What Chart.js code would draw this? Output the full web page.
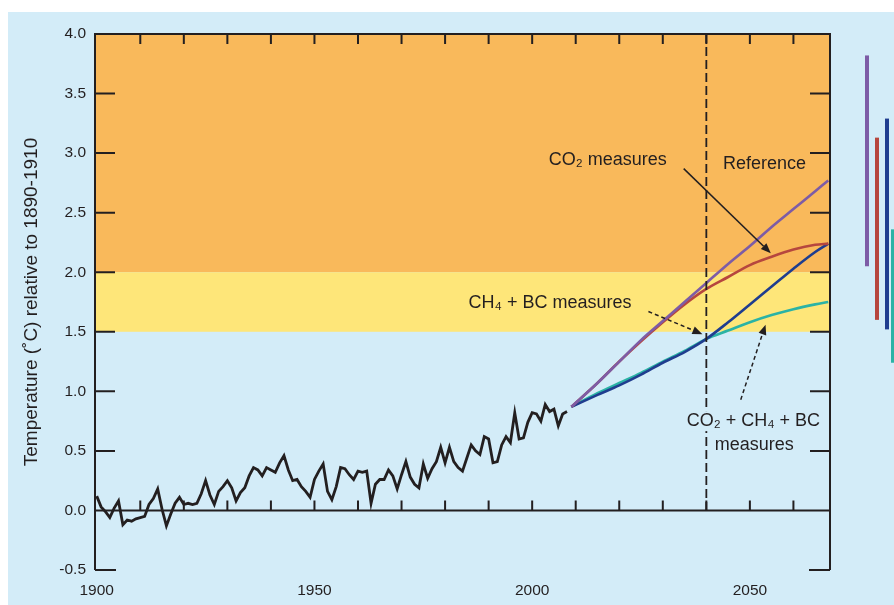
<!DOCTYPE html>
<html>
<head>
<meta charset="utf-8">
<title>Temperature projections</title>
<script src="https://cdn.jsdelivr.net/npm/chart.js@4.4.1/dist/chart.umd.min.js"></script>
<style>
  html, body { margin: 0; padding: 0; background: #ffffff; }
  #wrap { width: 894px; height: 605px; position: relative; }
</style>
</head>
<body>
<div id="wrap"><canvas id="chart" width="894" height="605"></canvas></div>
<script>
// ---- observed record: annual anomaly (°C, relative to 1890-1910), 1900-2008 ----
const histStart = 1900;
const histValues = [
  0.12, 0.03, -0.01, -0.06, 0.02, 0.08, -0.12, -0.08, -0.09, -0.07,
  -0.06, -0.05, 0.05, 0.10, 0.18, 0.01, -0.13, -0.03, 0.06, 0.11,
  0.05, 0.06, 0.05, 0.06, 0.14, 0.25, 0.13, 0.05, 0.16, 0.20,
  0.25, 0.19, 0.08, 0.15, 0.19, 0.29, 0.36, 0.34, 0.29, 0.36,
  0.34, 0.32, 0.40, 0.46, 0.34, 0.25, 0.26, 0.20, 0.16, 0.11,
  0.26, 0.33, 0.39, 0.16, 0.09, 0.20, 0.36, 0.35, 0.30, 0.26,
  0.33, 0.32, 0.33, 0.06, 0.22, 0.26, 0.26, 0.34, 0.29, 0.18,
  0.30, 0.41, 0.28, 0.22, 0.19, 0.39, 0.27, 0.35, 0.41, 0.53,
  0.40, 0.53, 0.41, 0.36, 0.33, 0.44, 0.55, 0.50, 0.47, 0.62,
  0.60, 0.40, 0.41, 0.55, 0.62, 0.57, 0.82, 0.60, 0.61, 0.74,
  0.82, 0.81, 0.75, 0.89, 0.83, 0.85, 0.71, 0.81, 0.83
];

// ---- projections ----
const projYears      = [2009, 2015, 2020, 2025, 2030, 2035, 2040, 2045, 2050, 2055, 2060, 2065, 2068];
const referenceVals  = [0.87, 1.07, 1.25, 1.43, 1.59, 1.75, 1.91, 2.07, 2.22, 2.38, 2.53, 2.68, 2.77];
const co2Vals        = [0.87, 1.07, 1.25, 1.42, 1.58, 1.73, 1.86, 1.96, 2.06, 2.13, 2.19, 2.23, 2.24];
const ch4bcVals      = [0.87, 0.97, 1.05, 1.14, 1.24, 1.33, 1.44, 1.58, 1.73, 1.88, 2.03, 2.17, 2.24];
const combinedVals   = [0.87, 0.985, 1.07, 1.155, 1.25, 1.34, 1.44, 1.51, 1.58, 1.64, 1.69, 1.73, 1.75];

// ranges for 2070-2100 shown as bars right of the plot (low, high)
const rangeLow  = [2.05, 1.60, 1.52, 1.24];
const rangeHigh = [3.82, 3.13, 3.29, 2.36];

// shaded warming bands (°C)
const bandOrange = [2.0, 4.0];
const bandYellow = [1.5, 2.0];

// axes
const xLabelYears = [1900, 1950, 2000, 2050];
const xTickYears  = [1910, 1920, 1930, 1940, 1950, 1960, 1970, 1980, 1990, 2000, 2010, 2020, 2030, 2040, 2050, 2060];
const markerYear  = 2040;

const COLORS = {
  ink: '#231f20',
  panel: '#d3ecf8',
  orange: '#f9b95b',
  yellow: '#fee679',
  reference: '#7d5ca6',
  co2: '#b6463e',
  ch4bc: '#1f3d8f',
  combined: '#2bb3a5'
};
const FONT = '"Liberation Sans", Arial, "DejaVu Sans", sans-serif';

const pts = (xs, ys) => ys.map((y, i) => ({ x: xs[i], y }));
const histPts = histValues.map((v, i) => ({ x: histStart + i, y: v }));

// backdrop: panel colour and the warming bands
const backdrop = {
  id: 'backdrop',
  beforeDraw(chart) {
    const { ctx, chartArea: a, scales: { y } } = chart;
    ctx.save();
    ctx.fillStyle = '#ffffff';
    ctx.fillRect(0, 0, chart.width, chart.height);
    ctx.fillStyle = COLORS.panel;
    ctx.fillRect(8, 12, chart.width - 8, chart.height - 12);
    const band = (r, c) => {
      const top = y.getPixelForValue(r[1]);
      const bot = y.getPixelForValue(r[0]);
      ctx.fillStyle = c;
      ctx.fillRect(a.left, top, a.right - a.left, bot - top);
    };
    band(bandOrange, COLORS.orange);
    band(bandYellow, COLORS.yellow);
    ctx.restore();
  }
};

function arrow(ctx, x1, y1, x2, y2, dashed) {
  const ang = Math.atan2(y2 - y1, x2 - x1);
  const head = 10, half = 4;
  const bx = x2 - head * Math.cos(ang), by = y2 - head * Math.sin(ang);
  ctx.save();
  ctx.strokeStyle = COLORS.ink;
  ctx.fillStyle = COLORS.ink;
  ctx.lineWidth = 1.5;
  if (dashed) ctx.setLineDash([4, 3]);
  ctx.beginPath();
  ctx.moveTo(x1, y1);
  ctx.lineTo(bx, by);
  ctx.stroke();
  ctx.setLineDash([]);
  ctx.beginPath();
  ctx.moveTo(x2, y2);
  ctx.lineTo(bx + half * Math.sin(ang), by - half * Math.cos(ang));
  ctx.lineTo(bx - half * Math.sin(ang), by + half * Math.cos(ang));
  ctx.closePath();
  ctx.fill();
  ctx.restore();
}

// frame, inward ticks, 2040 marker, labels and range bars
const overlay = {
  id: 'overlay',
  afterDraw(chart) {
    const { ctx, chartArea: a, scales: { x, y } } = chart;
    const X = v => x.getPixelForValue(v);
    const Y = v => y.getPixelForValue(v);
    ctx.save();
    ctx.strokeStyle = COLORS.ink;
    ctx.lineWidth = 2;
    ctx.lineCap = 'butt';

    // frame
    ctx.beginPath();
    ctx.moveTo(a.left, a.bottom); ctx.lineTo(a.left, a.top); ctx.lineTo(a.right, a.top); ctx.lineTo(a.right, a.bottom);
    ctx.moveTo(a.left, Y(0)); ctx.lineTo(a.right, Y(0));
    ctx.moveTo(a.left, a.bottom); ctx.lineTo(a.left + 21, a.bottom);
    ctx.moveTo(a.right - 21, a.bottom); ctx.lineTo(a.right, a.bottom);
    ctx.stroke();

    // y ticks on both sides, pointing inward
    ctx.beginPath();
    y.ticks.forEach(t => {
      if (t.value <= y.min || t.value >= y.max || t.value === 0) return;
      const py = Y(t.value);
      ctx.moveTo(a.left, py); ctx.lineTo(a.left + 20, py);
      ctx.moveTo(a.right, py); ctx.lineTo(a.right - 20, py);
    });
    // x ticks along top edge and along the zero line
    xTickYears.forEach(v => {
      const px = X(v);
      ctx.moveTo(px, a.top); ctx.lineTo(px, a.top + 10);
      ctx.moveTo(px, Y(0)); ctx.lineTo(px, Y(0) - 10);
    });
    ctx.stroke();

    // 2040 marker
    ctx.setLineDash([9, 4]);
    ctx.lineWidth = 1.8;
    ctx.beginPath();
    ctx.moveTo(X(markerYear), a.top);
    ctx.lineTo(X(markerYear), Y(0));
    ctx.stroke();
    ctx.setLineDash([]);

    // labels
    ctx.fillStyle = COLORS.ink;
    ctx.font = '18px ' + FONT;
    ctx.textBaseline = 'middle';
    ctx.textAlign = 'left';
    ctx.fillText('CO\u2082 measures', X(2003.8), Y(2.94));
    ctx.fillText('Reference', X(2043.8), Y(2.91));
    ctx.fillText('CH\u2084 + BC measures', X(1985.4), Y(1.74));

    const line1 = 'CO\u2082 + CH\u2084 + BC';
    ctx.textAlign = 'center';
    const w1 = ctx.measureText(line1).width;
    const cx = X(2050.8);
    ctx.fillStyle = COLORS.panel;
    ctx.fillRect(cx - w1 / 2 - 2, Y(0.75) - 10, w1 + 4, 20);
    ctx.fillStyle = COLORS.ink;
    ctx.fillText(line1, cx, Y(0.75));
    ctx.fillText('measures', X(2051.0), Y(0.55));

    arrow(ctx, X(2034.8), Y(2.87), X(2054.8), Y(2.16), false);
    arrow(ctx, X(2026.7), Y(1.67), X(2039.1), Y(1.48), true);
    arrow(ctx, X(2047.9), Y(0.93), X(2053.6), Y(1.56), true);

    // range bars beyond the plot
    const barColors = [COLORS.reference, COLORS.co2, COLORS.ch4bc, COLORS.combined];
    const barOffsets = [37, 47, 57, 63];
    ctx.lineWidth = 4;
    rangeLow.forEach((lo, i) => {
      ctx.strokeStyle = barColors[i];
      ctx.beginPath();
      ctx.moveTo(a.right + barOffsets[i], Y(rangeHigh[i]));
      ctx.lineTo(a.right + barOffsets[i], Y(lo));
      ctx.stroke();
    });
    ctx.restore();
  }
};

const lineStyle = (color, width) => ({
  borderColor: color, borderWidth: width, pointRadius: 0, fill: false
});

new Chart(document.getElementById('chart'), {
  type: 'line',
  data: {
    datasets: [
      Object.assign({ label: 'Observed', data: histPts, tension: 0, order: 0 }, lineStyle(COLORS.ink, 2.8)),
      Object.assign({ label: 'Reference', data: pts(projYears, referenceVals), cubicInterpolationMode: 'monotone', order: 1 }, lineStyle(COLORS.reference, 2.6)),
      Object.assign({ label: 'CO2 measures', data: pts(projYears, co2Vals), cubicInterpolationMode: 'monotone', order: 2 }, lineStyle(COLORS.co2, 2.6)),
      Object.assign({ label: 'CH4 + BC measures', data: pts(projYears, ch4bcVals), cubicInterpolationMode: 'monotone', order: 3 }, lineStyle(COLORS.ch4bc, 2.6)),
      Object.assign({ label: 'CO2 + CH4 + BC measures', data: pts(projYears, combinedVals), cubicInterpolationMode: 'monotone', order: 4 }, lineStyle(COLORS.combined, 2.6))
    ]
  },
  options: {
    responsive: false,
    animation: false,
    layout: { padding: { left: 0, top: 34, right: 64, bottom: 0 } },
    plugins: { legend: { display: false }, tooltip: { enabled: false } },
    scales: {
      x: {
        type: 'linear',
        min: 1899.6,
        max: 2068.4,
        border: { display: false },
        grid: { display: false, drawTicks: false },
        afterBuildTicks: s => { s.ticks = xLabelYears.map(v => ({ value: v })); },
        afterFit: s => { s.height = 35; },
        ticks: {
          color: COLORS.ink,
          padding: 11,
          maxRotation: 0,
          autoSkip: false,
          font: { family: FONT, size: 15.5 },
          callback: v => String(v)
        }
      },
      y: {
        min: -0.5,
        max: 4.0,
        border: { display: false },
        grid: { display: false, drawTicks: false },
        afterFit: s => { s.width = 95; },
        ticks: {
          stepSize: 0.5,
          color: COLORS.ink,
          padding: 9,
          font: { family: FONT, size: 15.5 },
          callback: v => v.toFixed(1)
        },
        title: {
          display: true,
          text: 'Temperature (\u02daC) relative to 1890-1910',
          color: COLORS.ink,
          font: { family: FONT, size: 19 },
          padding: { top: 20.5, bottom: 0 }
        }
      }
    }
  },
  plugins: [backdrop, overlay]
});
</script>
</body>
</html>
